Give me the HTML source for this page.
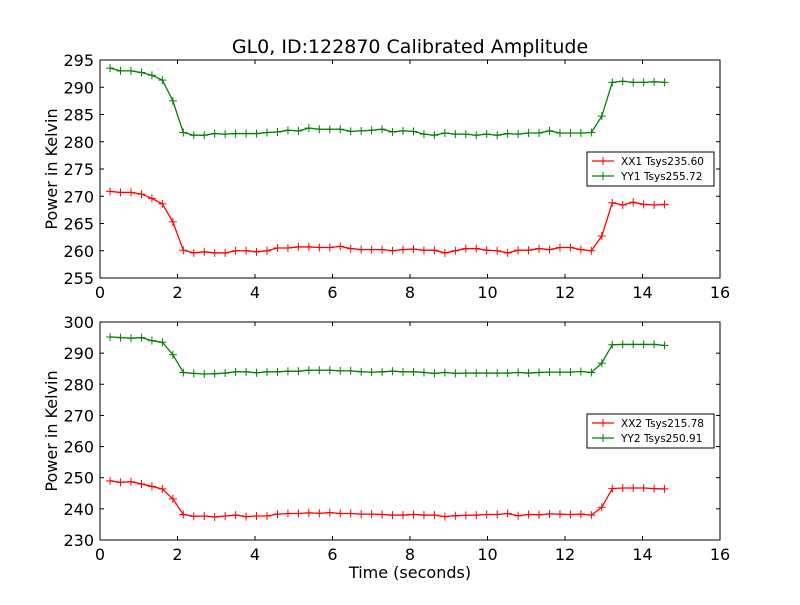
<!DOCTYPE html>
<html><head><meta charset="utf-8"><style>
body{margin:0;background:#fff}
svg{font-family:"DejaVu Sans","Liberation Sans",sans-serif}
</style></head><body>
<svg id="c" width="800" height="600">
<rect width="800" height="600" fill="#fff"/>
</svg>
<script>
const xVals = [];
for (let i = 0; i < 54; i++) xVals.push(0.26 + i * 0.27);
const xx1 = [270.9,270.7,270.7,270.4,269.6,268.6,265.3,
260.1,259.6,259.8,259.6,259.6,260.0,260.0,259.8,260.0,260.5,
260.5,260.7,260.7,260.6,260.6,260.8,260.4,260.2,260.2,260.2,
260.0,260.2,260.3,260.1,260.1,259.6,260.0,260.4,260.4,260.1,
260.0,259.6,260.1,260.1,260.4,260.2,260.6,260.6,260.2,260.0,
262.7,268.8,268.4,268.9,268.5,268.4,268.5];
const yy1 = [293.5,293,293,292.7,292.2,291.3,287.5,
281.7,281.2,281.2,281.5,281.4,281.5,281.5,281.5,281.7,281.8,
282.1,282.0,282.5,282.3,282.3,282.3,281.9,282.0,282.1,282.3,
281.8,282.0,281.9,281.4,281.2,281.6,281.4,281.4,281.2,281.4,
281.2,281.5,281.4,281.6,281.6,282.0,281.6,281.6,281.6,281.7,
284.7,290.9,291.1,290.9,290.9,291.0,290.9];
const yy2 = [295.2,295.0,294.8,295.0,294,293.5,289.5,
283.8,283.5,283.3,283.4,283.6,284,284,283.7,284,284,
284.2,284.2,284.5,284.5,284.5,284.3,284.3,284,283.9,284,
284.2,284,284,283.8,283.5,283.8,283.5,283.6,283.6,283.6,
283.6,283.6,283.8,283.6,283.8,283.9,283.9,283.9,284.1,283.8,
286.8,292.7,292.8,292.8,292.8,292.8,292.5];
const xx2 = [249,248.5,248.7,248,247.2,246.4,243.2,
238.2,237.6,237.7,237.4,237.7,238,237.5,237.7,237.7,238.3,
238.5,238.5,238.7,238.6,238.8,238.5,238.5,238.3,238.3,238.2,
238,238,238.2,238,238,237.5,237.8,237.9,238,238.2,
238.2,238.5,237.8,238.2,238.1,238.4,238.3,238.2,238.3,238,
240.5,246.5,246.7,246.7,246.7,246.5,246.4];
const xTicks = [0,2,4,6,8,10,12,14,16];
const yTicksTop = [255,260,265,270,275,280,285,290,295];
const yTicksBot = [230,240,250,260,270,280,290,300];

const NS = "http://www.w3.org/2000/svg";
const svg = document.getElementById('c');
function mk(tag, attrs, parent) {
  const e = document.createElementNS(NS, tag);
  for (const k in attrs) e.setAttribute(k, attrs[k]);
  (parent || svg).appendChild(e);
  return e;
}
const X0 = 100, X1 = 720;
function xs(v) { return X0 + (v - 0) / 16 * (X1 - X0); }

function panel(top, bot, ymin, ymax, yTicks, series, names, legendY, id) {
  const ys = v => bot - (v - ymin) / (ymax - ymin) * (bot - top);
  const g = mk('g', {});
  
  
  xTicks.forEach(t => {
    const x = xs(t);
    mk('line', {x1: x, x2: x, y1: bot, y2: bot - 4, stroke: '#000'}, g);
    mk('line', {x1: x, x2: x, y1: top, y2: top + 4, stroke: '#000'}, g);
    const tx = mk('text', {x: x, y: bot + 20, 'font-size': 16, 'text-anchor': 'middle'}, g);
    tx.textContent = t;
    
    
  });
  yTicks.forEach(t => {
    const y = ys(t);
    mk('line', {x1: X0, x2: X0 + 4, y1: y, y2: y, stroke: '#000'}, g);
    mk('line', {x1: X1, x2: X1 - 4, y1: y, y2: y, stroke: '#000'}, g);
    const tx = mk('text', {x: X0 - 6, y: y + 6, 'font-size': 16, 'text-anchor': 'end'}, g);
    tx.textContent = t;
    
    
  });
  series.forEach(s => {
    const pts = s.data.map((v, i) => xs(xVals[i]) + ',' + ys(v)).join(' ');
    const pl = mk('polyline', {points: pts, fill: 'none', stroke: s.color, 'stroke-width': 1.3}, g);
    
    
    s.data.forEach((v, i) => {
      const x = xs(xVals[i]), y = ys(v);
      const m = mk('path', {d: `M${x-4},${y}H${x+4}M${x},${y-4}V${y+4}`, stroke: s.color, 'stroke-width': 1}, g);
      
      
    });
  });
  mk('rect', {x: X0, y: top, width: X1 - X0, height: bot - top, fill: 'none', stroke: '#000', 'stroke-width': 1}, g);
  const yl = mk('text', {x: 0, y: 0, 'font-size': 16, 'text-anchor': 'middle', transform: `translate(57,${(top+bot)/2}) rotate(-90)`}, g);
  yl.textContent = 'Power in Kelvin';
  
  
  const lg = mk('g', {}, g);
  
  
  mk('rect', {x: 587, y: legendY, width: 127, height: 34, fill: '#fff', stroke: '#000', 'stroke-width': 1}, lg);
  series.forEach((s, k) => {
    const y = legendY + 9 + k * 15;
    mk('line', {x1: 592, x2: 614, y1: y, y2: y, stroke: s.color, 'stroke-width': 1.3}, lg);
    mk('path', {d: `M597,${y}H609M603,${y-4}V${y+4}`, stroke: s.color}, lg);
    const t = mk('text', {x: 621, y: y + 4, 'font-size': 10.5}, lg);
    t.textContent = names[k];
    
    
  });
}
panel(60, 278, 255, 295, yTicksTop,
  [{data: xx1, color: '#f00', name: 'xx1'}, {data: yy1, color: '#008000', name: 'yy1'}],
  ['XX1 Tsys235.60', 'YY1 Tsys255.72'], 152, 'top');
panel(322, 540, 230, 300, yTicksBot,
  [{data: xx2, color: '#f00', name: 'xx2'}, {data: yy2, color: '#008000', name: 'yy2'}],
  ['XX2 Tsys215.78', 'YY2 Tsys250.91'], 414, 'bottom');
const title = mk('text', {x: 410, y: 53, 'font-size': 19, 'text-anchor': 'middle'});
title.textContent = 'GL0, ID:122870 Calibrated Amplitude';


const xl = mk('text', {x: 410, y: 578, 'font-size': 16, 'text-anchor': 'middle'});
xl.textContent = 'Time (seconds)';


</script>
</body></html>
